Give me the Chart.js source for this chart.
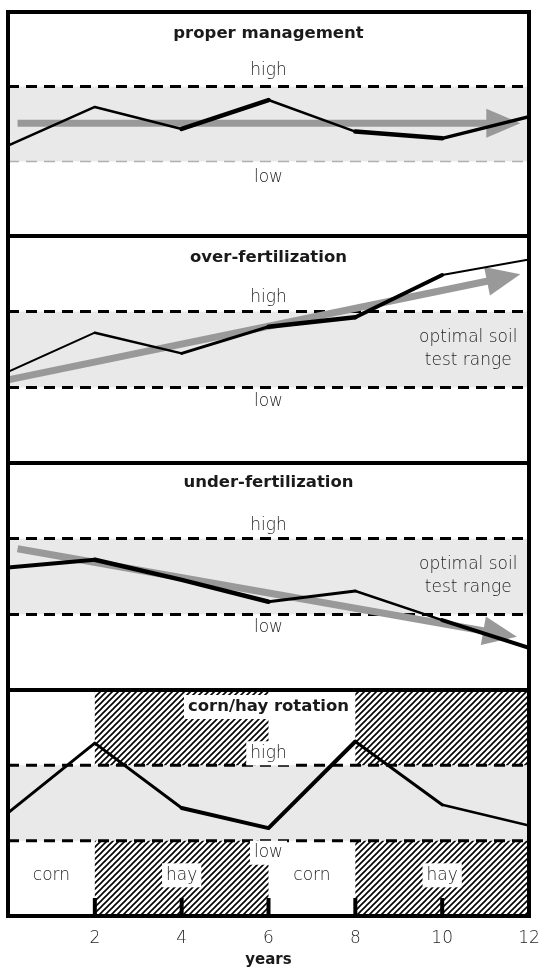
<!DOCTYPE html>
<html>
<head>
<meta charset="utf-8">
<script src="https://cdn.jsdelivr.net/npm/chart.js@4.4.1/dist/chart.umd.min.js"></script>
<style>
    html, body { margin: 0; padding: 0; background: #fff; }
    #wrap { position: relative; width: 542px; height: 968px; overflow: hidden; }
    #wrap canvas { position: absolute; left: 0; }
</style>
</head>
<body>
<div id="wrap"></div>
<script>
// データ（縦軸は各パネル 0〜100 の相対的な土壌診断値）
const years = [0, 2, 4, 6, 8, 10, 12];
const xTickValues = [2, 4, 6, 8, 10, 12];
const rangeLow = 33.3;
const rangeHigh = 66.7;

const properValues = [40.3, 57.6, 47.8, 60.7, 46.6, 43.6, 53.3];
const overValues = [40.2, 57.4, 48.3, 60.0, 64.2, 82.8, 89.7];
const underValues = [54.0, 57.4, 48.5, 38.9, 43.6, 30.8, 18.6];
const rotationValues = [45.6, 76.5, 47.8, 38.9, 77.2, 49.2, 40.0];

// 傾向を示す矢印 [始点, 先端] (年, 値)
const properTrend = [[0.22, 50.3], [11.8, 50.3]];
const overTrend = [[0, 36.6], [11.8, 83.1]];
const underTrend = [[0.22, 62.2], [11.72, 23.5]];

// 輪作
const crops = ['corn', 'hay', 'corn', 'hay'];
const cropStart = [0, 2, 6, 8];
const cropEnd = [2, 6, 8, 12];
const bottomTicks = [2, 4, 6, 8, 10];

Chart.defaults.font.family = '"DejaVu Sans", sans-serif';

const LABEL_FONT = '300 17px "DejaVu Sans"';
const TITLE_FONT = 'bold 16.5px "DejaVu Sans"';
const LABEL_COLOR = '#1e1e1e';

// 斜線パターン
function hatchPattern(ctx) {
    const c = document.createElement('canvas');
    c.width = 6; c.height = 6;
    const g = c.getContext('2d');
    g.strokeStyle = '#000';
    g.lineWidth = 1.6;
    g.beginPath();
    g.moveTo(-1, 7); g.lineTo(7, -1);
    g.moveTo(-1, 1); g.lineTo(1, -1);
    g.moveTo(5, 7); g.lineTo(7, 5);
    g.stroke();
    return ctx.createPattern(c, 'repeat');
}

function drawText(ctx, text, px, py, font, color, boxed) {
    ctx.font = font;
    ctx.textAlign = 'center';
    ctx.textBaseline = 'middle';
    if (boxed) {
        const w = ctx.measureText(text).width;
        ctx.fillStyle = '#fff';
        ctx.fillRect(px - w / 2 - 4, py - 12, w + 8, 24);
    }
    ctx.fillStyle = color;
    ctx.fillText(text, px, py);
}

function drawArrow(ctx, x, y, trend) {
    const x0 = x.getPixelForValue(trend[0][0]), y0 = y.getPixelForValue(trend[0][1]);
    const x1 = x.getPixelForValue(trend[1][0]), y1 = y.getPixelForValue(trend[1][1]);
    const ang = Math.atan2(y1 - y0, x1 - x0);
    const len = 34, half = 14.5;
    const bx = x1 - len * Math.cos(ang), by = y1 - len * Math.sin(ang);
    ctx.strokeStyle = '#999';
    ctx.lineWidth = 7;
    ctx.lineCap = 'butt';
    ctx.beginPath();
    ctx.moveTo(x0, y0);
    ctx.lineTo(bx + Math.cos(ang), by + Math.sin(ang));
    ctx.stroke();
    ctx.fillStyle = '#999';
    ctx.beginPath();
    ctx.moveTo(x1, y1);
    ctx.lineTo(bx + half * Math.sin(ang), by - half * Math.cos(ang));
    ctx.lineTo(bx - half * Math.sin(ang), by + half * Math.cos(ang));
    ctx.closePath();
    ctx.fill();
}

// パネルの背景・ラベル・枠を描くプラグイン
const panelPlugin = {
    id: 'panel',
    beforeDatasetsDraw(chart, args, opts) {
        const { ctx, chartArea: a, scales: { x, y } } = chart;
        ctx.save();
        const yHi = y.getPixelForValue(rangeHigh);
        const yLo = y.getPixelForValue(rangeLow);
        const midX = x.getPixelForValue(6);

        if (opts.rotation) {
            ctx.fillStyle = hatchPattern(ctx);
            cropStart.forEach((s, i) => {
                if (crops[i] !== 'hay') return;
                const l = x.getPixelForValue(s), r = x.getPixelForValue(cropEnd[i]);
                ctx.fillRect(l, a.top, r - l, a.height);
            });
        }

        ctx.fillStyle = '#e9e9e9';
        ctx.fillRect(a.left, yHi, a.width, yLo - yHi);

        ctx.setLineDash([11, 7]);
        ctx.strokeStyle = '#000';
        ctx.lineWidth = 3;
        ctx.beginPath();
        ctx.moveTo(a.left, yHi); ctx.lineTo(a.right, yHi);
        ctx.stroke();
        ctx.strokeStyle = opts.lowColor;
        ctx.lineWidth = opts.lowWidth;
        ctx.beginPath();
        ctx.moveTo(a.left, yLo); ctx.lineTo(a.right, yLo);
        ctx.stroke();
        ctx.setLineDash([]);

        drawText(ctx, opts.title, midX, a.top + opts.titleGap, TITLE_FONT, '#1a1a1a', opts.rotation);
        drawText(ctx, 'high', midX, yHi - opts.labelGap, LABEL_FONT, LABEL_COLOR, opts.rotation);
        drawText(ctx, 'low', midX, yLo + opts.labelGap, LABEL_FONT, LABEL_COLOR, opts.rotation);

        if (opts.optimal) {
            const ox = x.getPixelForValue(10.6);
            const oy = (yHi + yLo) / 2;
            drawText(ctx, 'optimal soil', ox, oy - 12, LABEL_FONT, LABEL_COLOR, false);
            drawText(ctx, 'test range', ox, oy + 11, LABEL_FONT, LABEL_COLOR, false);
        }

        if (opts.rotation) {
            cropStart.forEach((s, i) => {
                const cx = x.getPixelForValue((s + cropEnd[i]) / 2);
                drawText(ctx, crops[i], cx, y.getPixelForValue(18), LABEL_FONT, LABEL_COLOR, crops[i] === 'hay');
            });
        }

        if (opts.trend) drawArrow(ctx, x, y, opts.trend);
        ctx.restore();
    },
    afterDatasetsDraw(chart, args, opts) {
        const { ctx, chartArea: a, scales: { x } } = chart;
        ctx.save();
        if (opts.rotation) {
            ctx.fillStyle = '#000';
            bottomTicks.forEach(t => {
                const px = x.getPixelForValue(t);
                ctx.fillRect(px - 2, a.bottom - 18, 4, 18);
            });
        }
        ctx.strokeStyle = '#000';
        ctx.lineWidth = 4;
        ctx.strokeRect(a.left, a.top, a.width, a.height);
        ctx.restore();
    }
};

const panels = [
    { title: 'proper management', values: properValues, trend: properTrend, weights: [2.5, 2.5, 4.5, 2.5, 4.5, 3.5],
      top: 12, height: 224, titleGap: 22, labelGap: 16, lowColor: '#b0b0b0', lowWidth: 1.5, optimal: false },
    { title: 'over-fertilization', values: overValues, trend: overTrend, weights: [2, 2.5, 3, 4.5, 4, 2],
      top: 236, height: 227, titleGap: 22, labelGap: 14, lowColor: '#000', lowWidth: 3, optimal: true },
    { title: 'under-fertilization', values: underValues, trend: underTrend, weights: [4, 4.5, 4.5, 3, 2.5, 4],
      top: 463, height: 227, titleGap: 20, labelGap: 13, lowColor: '#000', lowWidth: 3, optimal: true },
    { title: 'corn/hay rotation', values: rotationValues, trend: null, weights: [3, 3, 4, 4, 3, 2.5],
      top: 690, height: 226, titleGap: 17, labelGap: 12, lowColor: '#000', lowWidth: 3, optimal: false, rotation: true }
];

const wrap = document.getElementById('wrap');

panels.forEach((p, i) => {
    const last = i === panels.length - 1;
    const canvas = document.createElement('canvas');
    const h = last ? 968 - (p.top - 6) : p.height + 12;
    canvas.width = 542;
    canvas.height = h;
    canvas.style.width = '542px';
    canvas.style.height = h + 'px';
    canvas.style.top = (p.top - 6) + 'px';
    wrap.appendChild(canvas);

    new Chart(canvas, {
        type: 'line',
        data: {
            labels: years,
            datasets: [{
                data: years.map((yr, k) => ({ x: yr, y: p.values[k] })),
                borderColor: '#000',
                borderWidth: 3,
                borderCapStyle: 'round',
                borderJoinStyle: 'round',
                pointRadius: 0,
                tension: 0,
                segment: { borderWidth: ctx => p.weights[ctx.p0DataIndex] }
            }]
        },
        options: {
            responsive: false,
            animation: false,
            devicePixelRatio: 1,
            events: [],
            layout: { padding: { left: 8, right: 13, top: 6, bottom: last ? 0 : 6 } },
            scales: {
                x: {
                    type: 'linear',
                    min: 0,
                    max: 12,
                    display: last,
                    grid: { display: false, drawTicks: false },
                    border: { display: false },
                    afterBuildTicks: s => { s.ticks = xTickValues.map(v => ({ value: v })); },
                    afterFit: s => {
                        if (!last) return;
                        s.height = 52;
                        s.paddingLeft = 0;
                        s.paddingRight = 0;
                    },
                    ticks: {
                        autoSkip: false,
                        maxRotation: 0,
                        padding: 12,
                        color: LABEL_COLOR,
                        font: { size: 17, weight: 300 }
                    },
                    title: {
                        display: true,
                        text: 'years',
                        color: '#1a1a1a',
                        padding: { top: 0, bottom: -1 },
                        font: { size: 15, weight: 'bold' }
                    }
                },
                y: { min: 0, max: 100, display: false }
            },
            plugins: {
                legend: { display: false },
                tooltip: { enabled: false },
                panel: {
                    title: p.title,
                    trend: p.trend,
                    titleGap: p.titleGap,
                    labelGap: p.labelGap,
                    lowColor: p.lowColor,
                    lowWidth: p.lowWidth,
                    optimal: p.optimal,
                    rotation: !!p.rotation
                }
            }
        },
        plugins: [panelPlugin]
    });
});
</script>
</body>
</html>
